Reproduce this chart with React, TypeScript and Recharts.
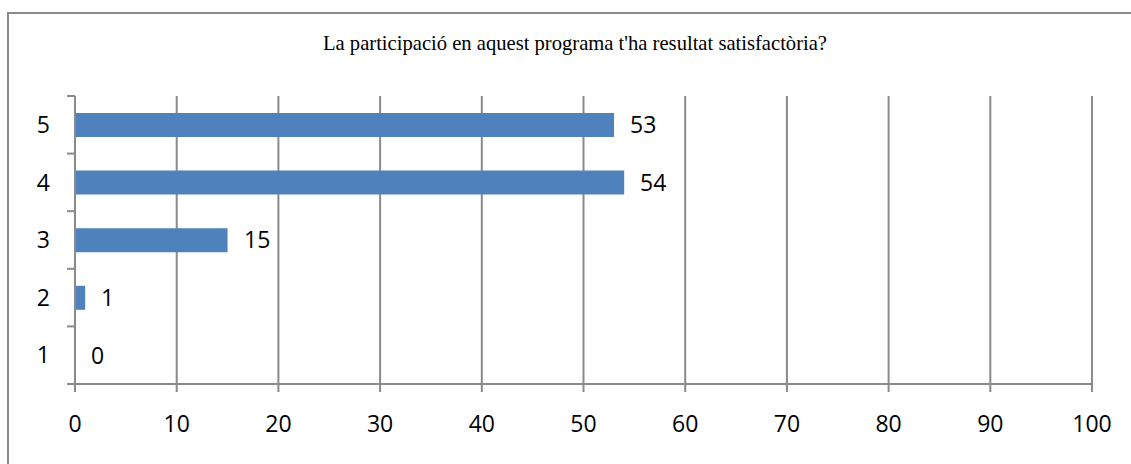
import React from "react";
import { Bar, BarChart, CartesianGrid, LabelList, XAxis, YAxis } from "recharts";

const TITLE = "La participació en aquest programa t'ha resultat satisfactòria?";
const scores = ["5", "4", "3", "2", "1"];
const counts = [53, 54, 15, 1, 0];
const xTicks = [0, 10, 20, 30, 40, 50, 60, 70, 80, 90, 100];

const data = scores.map((score, i) => ({ score, count: counts[i] }));

const GRAY = "#8a8a8a";
const FONT = "'Open Sans', 'Noto Sans', sans-serif";
const AXIS_X = 75;
const HALF_BAND = 28.8;

function ScoreTick(props: any) {
  const { y, payload, index } = props;
  return (
    <g>
      <line x1={AXIS_X - 8} x2={AXIS_X} y1={y - HALF_BAND} y2={y - HALF_BAND} stroke={GRAY} strokeWidth={2} />
      {index === scores.length - 1 && (
        <line x1={AXIS_X - 8} x2={AXIS_X} y1={y + HALF_BAND} y2={y + HALF_BAND} stroke={GRAY} strokeWidth={2} />
      )}
      <text x={50} y={y} dy="0.36em" textAnchor="end" fontSize={23} fontFamily={FONT} fill="#000">
        {payload.value}
      </text>
    </g>
  );
}

// draws the value next to the bar end, also for zero-length bars
function ValueLabel(props: any) {
  const { x, y, width, height, value } = props;
  return (
    <text
      x={Number(x) + Math.round(Number(width || 0)) + 16}
      y={Number(y) + Number(height) / 2}
      dy="0.36em"
      fontSize={23}
      fontFamily={FONT}
      fill="#000"
    >
      {value}
    </text>
  );
}

export default function App() {
  return (
    <div style={{ position: "absolute", left: 0, top: 0, width: 1131, height: 464, background: "#fff" }}>
      <div
        style={{
          position: "absolute",
          left: 7,
          top: 12,
          right: 0,
          bottom: 0,
          borderLeft: `2px solid ${GRAY}`,
          borderTop: `2px solid ${GRAY}`,
        }}
      />
      <div
        style={{
          position: "absolute",
          left: 0,
          width: 1150,
          top: 31,
          lineHeight: "24px",
          textAlign: "center",
          fontFamily: "'Liberation Serif', 'DejaVu Serif', serif",
          fontSize: 20.6,
          color: "#000",
        }}
      >
        {TITLE}
      </div>
      <div style={{ position: "absolute", left: 0, top: 0 }}>
        <BarChart
          width={1131}
          height={464}
          data={data}
          layout="vertical"
          margin={{ top: 96, right: 39, bottom: 30, left: 0 }}
        >
          <CartesianGrid horizontal={false} stroke={GRAY} strokeWidth={2} />
          <XAxis
            type="number"
            domain={[0, 100]}
            ticks={xTicks}
            interval={0}
            height={50}
            tickSize={8}
            tickMargin={24}
            axisLine={{ stroke: GRAY, strokeWidth: 2 }}
            tickLine={{ stroke: GRAY, strokeWidth: 2 }}
            tick={{ fontSize: 23, fontFamily: FONT, fill: "#000" }}
          />
          <YAxis
            type="category"
            dataKey="score"
            width={AXIS_X}
            tickLine={false}
            axisLine={{ stroke: GRAY, strokeWidth: 2 }}
            tick={<ScoreTick />}
            interval={0}
          />
          <Bar dataKey="count" fill="#4f81bd" barSize={24} minPointSize={0.01} isAnimationActive={false}>
            <LabelList dataKey="count" content={<ValueLabel />} />
          </Bar>
        </BarChart>
      </div>
    </div>
  );
}
